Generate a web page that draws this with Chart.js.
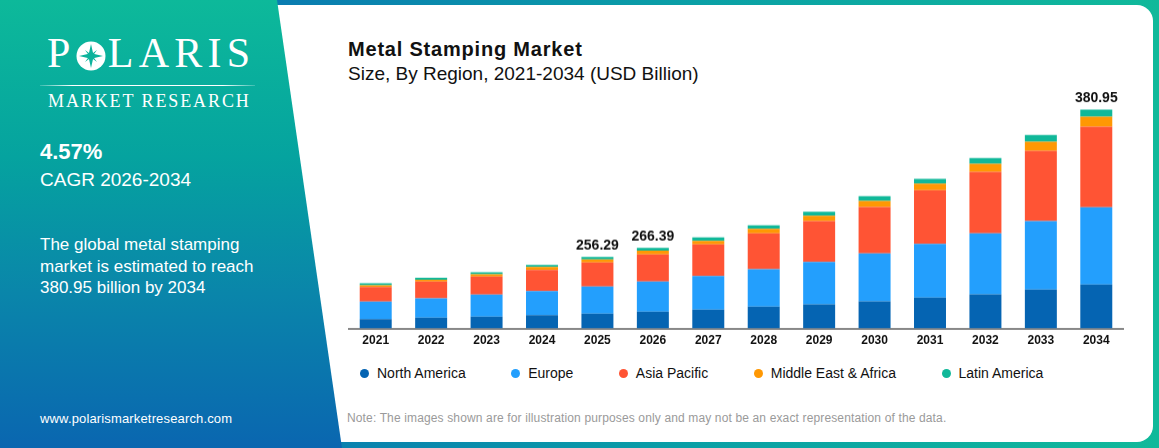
<!DOCTYPE html>
<html>
<head>
<meta charset="utf-8">
<script src="https://cdn.jsdelivr.net/npm/chart.js@4.4.1/dist/chart.umd.min.js"></script>
<style>
  html, body { margin: 0; padding: 0; }
  body {
    width: 1159px; height: 448px; position: relative; overflow: hidden;
    font-family: "Liberation Sans", Arial, sans-serif;
    background: linear-gradient(to right, #0a6cb1 0%, #0a7db0 25%, #0aa0a6 60%, #10b99a 100%);
  }
  .card {
    position: absolute; left: 260px; top: 5px; width: 893px; height: 437px;
    background: #fff; border-radius: 0 16px 16px 0;
  }
  .panel {
    position: absolute; left: 0; top: 0; width: 345px; height: 448px;
    background: linear-gradient(to bottom, #0db99a 0%, #05a39f 35%, #0a86aa 65%, #0a66b0 100%);
    clip-path: polygon(0 0, 277px 0, 342px 448px, 0 448px);
    color: #fff;
  }
  .logo {
    position: absolute; left: 47px; top: 28px; font-family: "Liberation Serif", "Times New Roman", serif;
    font-size: 42px; letter-spacing: 5.3px; line-height: 50px; white-space: nowrap;
  }
  .logo svg { vertical-align: -4px; margin: 0 2px 0 0; }
  .rule {
    position: absolute; left: 40px; top: 85px; width: 215px; height: 1px;
    background: linear-gradient(to right, rgba(255,255,255,0.2), #fff 15%, #fff 85%, rgba(255,255,255,0.2));
  }
  .sub-logo {
    position: absolute; left: 48px; top: 91px; font-family: "Liberation Serif", "Times New Roman", serif;
    font-size: 18px; letter-spacing: 1.9px; white-space: nowrap;
  }
  .cagr { position: absolute; left: 40px; top: 139px; font-size: 22px; font-weight: bold; }
  .cagr-sub { position: absolute; left: 40px; top: 169px; font-size: 19px; }
  .blurb { position: absolute; left: 40px; top: 234px; font-size: 17px; line-height: 21.7px; }
  .site { position: absolute; left: 40px; top: 411px; font-size: 13px; letter-spacing: 0.15px; }
  .title { position: absolute; left: 348px; top: 38px; font-size: 20px; font-weight: bold; color: #111; letter-spacing: 0.8px; }
  .subtitle { position: absolute; left: 348px; top: 63px; font-size: 19px; color: #111; }
  .chart-box { position: absolute; left: 348px; top: 80px; width: 776px; height: 277.5px; }
  .legend { position: absolute; left: 360px; top: 365px; display: flex; gap: 45.5px; font-size: 14px; color: #111; }
  .legend span.item { display: flex; align-items: center; white-space: nowrap; }
  .legend i { display: inline-block; width: 9px; height: 9px; border-radius: 50%; margin-right: 8px; }
  .note { position: absolute; left: 347px; top: 411px; font-size: 12px; color: #9a9a9a; letter-spacing: 0.14px; }
</style>
</head>
<body>
<div class="card"></div>
<div class="panel">
  <div class="logo">P<svg width="30" height="30" viewBox="-15 -15 30 30">
      <circle r="14.5" fill="#fff"/>
      <polygon fill="#0cb39c" points="0,-12 2.2,-2.2 12,0 2.2,2.2 0,12 -2.2,2.2 -12,0 -2.2,-2.2"/>
      <polygon fill="#0cb39c" points="6,-6 1.6,0 6,6 0,1.6 -6,6 -1.6,0 -6,-6 0,-1.6"/>
    </svg>LARIS</div>
  <div class="rule"></div>
  <div class="sub-logo">MARKET RESEARCH</div>
  <div class="cagr">4.57%</div>
  <div class="cagr-sub">CAGR 2026-2034</div>
  <div class="blurb">The global metal stamping<br>market is estimated to reach<br>380.95 billion by 2034</div>
  <div class="site">www.polarismarketresearch.com</div>
</div>

<div class="title">Metal Stamping Market</div>
<div class="subtitle">Size, By Region, 2021-2034 (USD Billion)</div>
<div class="chart-box"><canvas id="marketChart"></canvas></div>
<div class="legend" id="legend"></div>
<div class="note">Note: The images shown are for illustration purposes only and may not be an exact representation of the data.</div>

<script>
// values (bar heights), USD billion
const years = ['2021', '2022', '2023', '2024', '2025', '2026', '2027', '2028', '2029', '2030', '2031', '2032', '2033', '2034'];
const northAmerica = [16.3, 18.6, 20.4, 23.3, 25.6, 29.1, 32.6, 37.8, 41.9, 47.2, 53.6, 59.4, 67.5, 76.3];
const europe = [30.3, 33.8, 38.4, 41.9, 47.2, 52.4, 58.8, 65.2, 73.9, 83.3, 93.7, 106.0, 119.4, 134.5];
const asiaPacific = [25.6, 29.1, 31.4, 36.7, 41.9, 47.2, 54.7, 62.3, 71.0, 80.9, 93.2, 107.1, 122.3, 140.3];
const middleEastAfrica = [2.9, 3.0, 4.2, 4.9, 5.2, 6.6, 6.4, 8.2, 9.3, 10.5, 11.6, 14.0, 15.7, 17.5];
const latinAmerica = [3.3, 3.5, 3.5, 3.5, 4.7, 4.7, 5.8, 5.8, 7.0, 8.2, 8.2, 9.9, 11.6, 12.4];
const totalLabels = [null, null, null, null, '256.29', '266.39', null, null, null, null, null, null, null, '380.95'];

const series = [
  { label: 'North America', data: northAmerica, color: '#0564b2' },
  { label: 'Europe', data: europe, color: '#239ffd' },
  { label: 'Asia Pacific', data: asiaPacific, color: '#ff5434' },
  { label: 'Middle East & Africa', data: middleEastAfrica, color: '#ff9803' },
  { label: 'Latin America', data: latinAmerica, color: '#10b899' }
];

// draws the total on top of selected bars
const totalsPlugin = {
  id: 'totals',
  afterDatasetsDraw(chart) {
    const ctx = chart.ctx;
    const topMeta = chart.getDatasetMeta(chart.data.datasets.length - 1);
    ctx.save();
    ctx.font = 'bold 14px "Liberation Sans", Arial, sans-serif';
    ctx.fillStyle = '#111';
    ctx.textAlign = 'center';
    ctx.textBaseline = 'bottom';
    totalLabels.forEach((txt, i) => {
      if (!txt) return;
      const bar = topMeta.data[i];
      ctx.fillText(txt, bar.x, bar.y - 4);
    });
    ctx.restore();
  }
};

const ctx = document.getElementById('marketChart').getContext('2d');
const marketChart = new Chart(ctx, {
  type: 'bar',
  data: {
    labels: years,
    datasets: series.map(s => ({
      label: s.label,
      data: s.data,
      backgroundColor: s.color,
      borderWidth: 0,
      barPercentage: 0.577,
      categoryPercentage: 1
    }))
  },
  options: {
    responsive: true,
    maintainAspectRatio: false,
    animation: false,
    layout: { padding: { top: 18.5, left: 0, right: 0, bottom: 0 } },
    plugins: {
      legend: { display: false },
      tooltip: { enabled: false }
    },
    scales: {
      x: {
        stacked: true,
        grid: { display: false, drawTicks: false },
        border: { display: true, color: '#888', width: 2 },
        ticks: {
          color: '#111',
          padding: 5,
          font: { family: '"Liberation Sans", Arial, sans-serif', size: 12, weight: 'bold' }
        },
        afterFit: scale => { scale.height = 30; }
      },
      y: {
        stacked: true,
        display: false,
        min: 0,
        max: 400
      }
    }
  },
  plugins: [totalsPlugin]
});

// html legend built from the series
const legendEl = document.getElementById('legend');
series.forEach(s => {
  const item = document.createElement('span');
  item.className = 'item';
  item.innerHTML = '<i style="background:' + s.color + '"></i>' + s.label;
  legendEl.appendChild(item);
});
</script>
</body>
</html>
